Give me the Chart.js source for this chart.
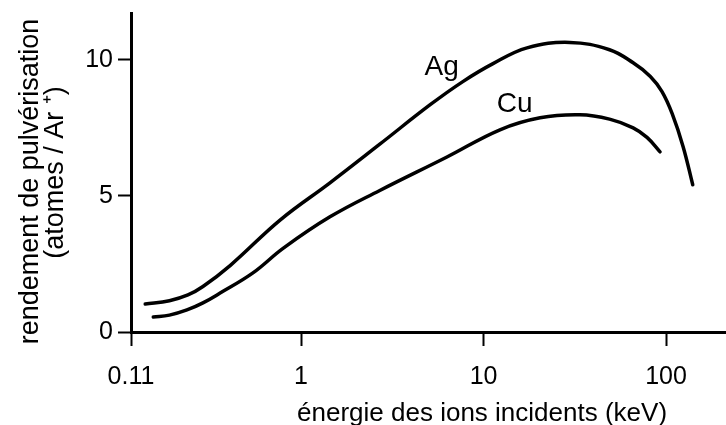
<!DOCTYPE html>
<html>
<head>
<meta charset="utf-8">
<script src="https://cdn.jsdelivr.net/npm/chart.js@4/dist/chart.umd.min.js"></script>
<style>
  html, body { margin: 0; padding: 0; background: #fff; }
  #wrap { width: 726px; height: 425px; }
</style>
</head>
<body>
<div id="wrap"><canvas id="chart"></canvas></div>
<script>
// energy (keV) / yield (atoms per Ar+)
const agEnergy = [0.14, 0.19, 0.24, 0.29, 0.41, 0.77, 1.44, 2.7, 5.1, 7.7, 11.2, 17.3, 29.7, 49, 66, 82, 95, 108, 124, 140];
const agYield  = [1.03, 1.15, 1.36, 1.67, 2.45, 4.12, 5.48, 6.9, 8.35, 9.2, 9.85, 10.44, 10.64, 10.37, 9.89, 9.39, 8.83, 8.02, 6.81, 5.41];

const cuEnergy = [0.155, 0.19, 0.237, 0.29, 0.36, 0.545, 0.8, 1.44, 2.7, 6.3, 12.3, 20.4, 33.7, 49, 66, 78.6, 92.7];
const cuYield  = [0.55, 0.62, 0.81, 1.07, 1.43, 2.17, 3.08, 4.23, 5.2, 6.43, 7.43, 7.87, 7.98, 7.82, 7.5, 7.15, 6.62];

const xTickValues = [0.117, 1, 10, 100];
const xTickLabels = ['0.11', '1', '10', '100'];
const yTickValues = [0, 5, 10];

const xTitle = 'énergie des ions incidents (keV)';
const yTitle = ['rendement de pulvérisation', '(atomes / Ar ⁺)'];

const FONT = '"Liberation Sans", Arial, sans-serif';

const toPoints = (xs, ys) => xs.map((x, i) => ({ x: x, y: ys[i] }));

// curve names plus both axis titles (placed off-centre like in the original)
const annotations = {
  id: 'annotations',
  afterDatasetsDraw(chart) {
    const { ctx, scales, chartArea } = chart;
    const midY = (chartArea.top + chartArea.bottom) / 2;
    ctx.save();
    ctx.fillStyle = '#000';
    ctx.textAlign = 'center';
    ctx.textBaseline = 'middle';
    ctx.font = '28px ' + FONT;
    chart.data.datasets.forEach((ds) => {
      ctx.fillText(ds.label, scales.x.getPixelForValue(ds.nameAt[0]), scales.y.getPixelForValue(ds.nameAt[1]));
    });

    ctx.font = '26px ' + FONT;
    ctx.textBaseline = 'alphabetic';
    ctx.fillText(xTitle, chartArea.left + (chartArea.right - chartArea.left) * 0.59, chart.height - 4);

    ctx.font = '27px ' + FONT;
    ctx.textBaseline = 'middle';
    ctx.translate(31, midY + 9);
    ctx.rotate(-Math.PI / 2);
    ctx.fillText(yTitle[0], 0, 0);
    ctx.fillText(yTitle[1], 9, 25);
    ctx.restore();
  }
};

new Chart(document.getElementById('chart'), {
  type: 'line',
  data: {
    datasets: [
      { label: 'Ag', data: toPoints(agEnergy, agYield), nameAt: [5.9, 9.74] },
      { label: 'Cu', data: toPoints(cuEnergy, cuYield), nameAt: [14.8, 8.35] }
    ]
  },
  options: {
    responsive: true,
    maintainAspectRatio: false,
    animation: false,
    layout: { padding: { top: 13, right: 0, left: 0, bottom: 0 } },
    elements: {
      point: { radius: 0 },
      line: {
        borderColor: '#000',
        borderWidth: 3.5,
        borderCapStyle: 'round',
        borderJoinStyle: 'round',
        tension: 0.4,
        fill: false
      }
    },
    plugins: {
      legend: { display: false },
      tooltip: { enabled: false }
    },
    scales: {
      x: {
        type: 'logarithmic',
        min: 0.117,
        max: 213,
        afterBuildTicks: (scale) => { scale.ticks = xTickValues.map((v) => ({ value: v })); },
        afterFit: (scale) => {
          scale.height = 93;
          scale.paddingLeft = 0;
          scale.paddingRight = 0;
        },
        ticks: {
          autoSkip: false,
          maxRotation: 0,
          padding: 16,
          color: '#000',
          font: { family: FONT, size: 25 },
          callback: (value, index) => xTickLabels[index]
        },
        grid: {
          drawOnChartArea: false,
          drawTicks: true,
          tickLength: 14,
          tickWidth: 2,
          tickColor: '#000'
        },
        border: { display: true, color: '#000', width: 3 },
        title: { display: false }
      },
      y: {
        type: 'linear',
        min: 0,
        max: 11.72,
        afterBuildTicks: (scale) => { scale.ticks = yTickValues.map((v) => ({ value: v })); },
        afterFit: (scale) => {
          scale.width = 131;
          scale.paddingTop = 0;
          scale.paddingBottom = 0;
        },
        ticks: {
          padding: 5,
          color: '#000',
          font: { family: FONT, size: 25 }
        },
        grid: {
          drawOnChartArea: false,
          drawTicks: true,
          tickLength: 13,
          tickWidth: 2,
          tickColor: '#000'
        },
        border: { display: true, color: '#000', width: 3 },
        title: { display: false }
      }
    }
  },
  plugins: [annotations]
});
</script>
</body>
</html>
